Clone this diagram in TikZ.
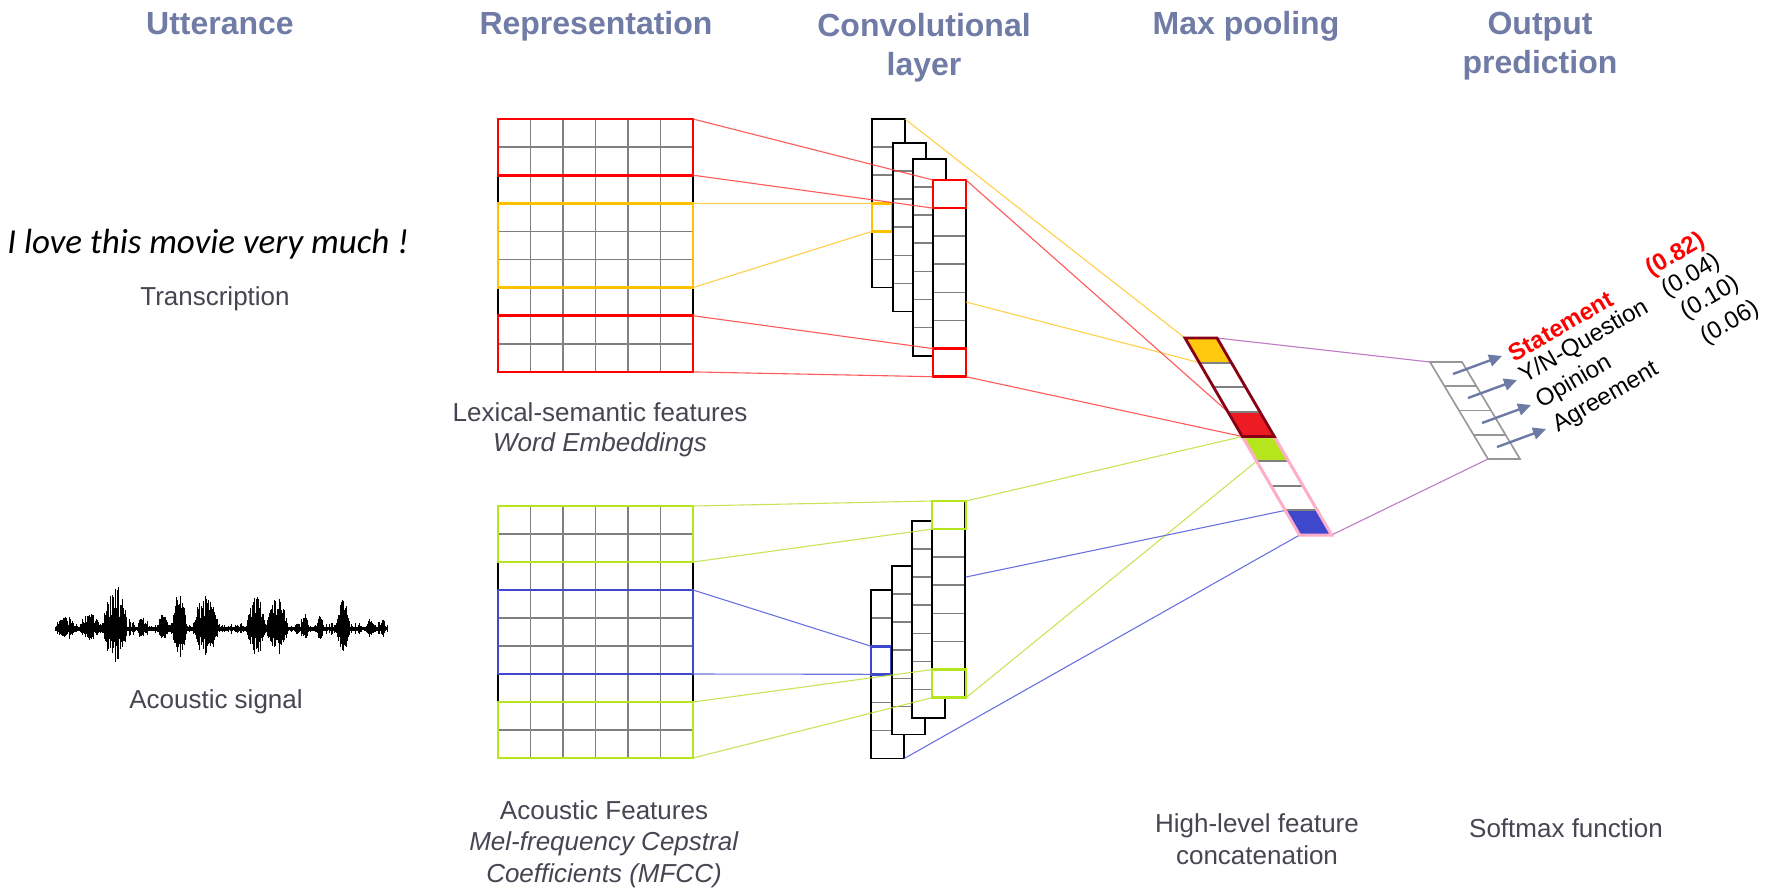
\documentclass[tikz,border=0pt]{standalone}
\usepackage{fontspec}
\setmainfont{Liberation Sans}
\newfontfamily\calfont{Carlito}
\usetikzlibrary{arrows.meta}

\definecolor{hdr}{RGB}{112,124,166}
\definecolor{lbl}{RGB}{70,70,82}
\definecolor{gridgray}{RGB}{128,128,128}
\definecolor{boxred}{RGB}{255,0,0}
\definecolor{boxyel}{RGB}{255,192,0}
\definecolor{boxgrn}{RGB}{181,230,29}
\definecolor{boxblu}{RGB}{63,72,204}
\definecolor{cellred}{RGB}{237,28,36}
\definecolor{cellyel}{RGB}{255,201,14}
\definecolor{darkred}{RGB}{136,0,21}
\definecolor{pinkish}{RGB}{255,174,201}
\definecolor{arrowc}{RGB}{110,122,166}
\definecolor{lnred}{RGB}{255,60,60}
\definecolor{lnyel}{RGB}{255,200,40}
\definecolor{lngrn}{RGB}{190,225,60}
\definecolor{lnblu}{RGB}{80,90,220}
\definecolor{lnpur}{RGB}{180,100,190}
\definecolor{smgray}{RGB}{150,150,150}

\newcommand\hdrfont{\fontsize{32}{39}\selectfont\bfseries}
\newcommand\lblfont{\fontsize{26}{30}\selectfont}
\newcommand\catfont{\fontsize{24}{28}\selectfont}

% feature matrix: left x, top y, row height (6 columns x 9 rows)
\newcommand\featgrid[3]{%
  \foreach \k in {1,...,5} \draw[gridln] (#1+\k*32.5,#2) -- (#1+\k*32.5,#2+9*#3);
  \foreach \k in {1,...,8} \draw[gridln] (#1,#2+\k*#3) -- (#1+195,#2+\k*#3);
  \draw[edge] (#1,#2) -- (#1,#2+9*#3) (#1+195,#2) -- (#1+195,#2+9*#3);
}
% feature map column: left x, top y, number of cells
\newcommand\convcol[3]{%
  \fill[white] (#1,#2) rectangle (#1+33,#2+#3*28.1);
  \foreach \k in {2,...,#3} \draw[gridln] (#1,#2+\k*28.1-28.1) -- (#1+33,#2+\k*28.1-28.1);
  \draw[edge] (#1,#2) rectangle (#1+33,#2+#3*28.1);
}

\begin{document}
\begin{tikzpicture}[x=1pt,y=-1pt,
  gridln/.style={draw=gridgray,line width=1.7pt},
  edge/.style={draw=black,line width=1.6pt},
  hbox/.style={line width=2.6pt},
  conn/.style={line width=1.1pt,opacity=0.85},
  hdrtxt/.style={text=hdr,font=\hdrfont,inner sep=0pt,align=center},
  lbltxt/.style={text=lbl,font=\lblfont,inner sep=0pt,align=center},
  cattxt/.style={font=\catfont,inner sep=0pt,rotate=30,anchor=center},
  probtxt/.style={font=\catfont,inner sep=0pt,rotate=30},
  outarrow/.style={draw=arrowc,line width=2.4pt,-{Triangle[length=13pt,width=12pt]}},
  wave/.style={draw=black,line width=0.7pt}]

\useasboundingbox (0,0) rectangle (1771,887);
\fill[white] (0,0) rectangle (1771,887);

% ---------- column titles ----------
\node[hdrtxt,anchor=base] (h-utt) at (220,34) {Utterance};
\node[hdrtxt,anchor=base] (h-rep) at (596,34) {Representation};
\node[hdrtxt,anchor=north] (h-conv) at (924,13) {Convolutional\\layer};
\node[hdrtxt,anchor=base] (h-pool) at (1246,34) {Max pooling};
\node[hdrtxt,anchor=north] (h-out) at (1540,12) {Output\\prediction};

% ---------- utterance ----------
\node[inner sep=0pt,anchor=base,font=\calfont\itshape\fontsize{35}{40}\selectfont] (sent) at (208,253) {I love this movie very much !};
\node[lbltxt,anchor=base] (transc) at (215,305) {Transcription};

\begin{scope}
  \pgfmathsetseed{42}
  \draw[line width=2.2pt] (55,629) -- (388,629);
  \foreach \k in {0,...,332}{
    \pgfmathsetmacro\wx{55+\k}
    \pgfmathsetmacro\wamp{2+9*rnd*rnd*rnd}
    \pgfmathsetmacro\wdn{\wamp*(0.6+0.4*rnd)}
    \draw[wave] (\wx,629-\wamp) -- (\wx,629+\wdn);
  }
  \foreach \c/\w/\a in {115/13/47,179/8/38,206/14/36,256/10/33,277/12/32,343/7/30,
                        66/11/13,90/12/16,142/5/13,163/7/15,305/4/15,320/4/13,370/4/11,383/3/10}{
    \foreach \k in {0,...,50}{
      \pgfmathsetmacro\wt{-1+\k/25}
      \pgfmathsetmacro\wx{\c+\wt*\w}
      \pgfmathsetmacro\wamp{\a*(1-\wt*\wt)*(0.2+0.8*rnd)}
      \pgfmathsetmacro\wdn{\wamp*(0.5+0.35*rnd)}
      \draw[wave] (\wx,629-\wamp) -- (\wx,629+\wdn);
    }
  }
\end{scope}
\node[lbltxt,anchor=base] (acsig) at (216,708) {Acoustic signal};

% ---------- representations ----------
\featgrid{498}{119}{28.1}
\draw[hbox,boxred] (498,119) rectangle (693,175.2);
\draw[hbox,boxyel] (498,203.3) rectangle (693,287.6);
\draw[hbox,boxred] (498,315.7) rectangle (693,371.9);
\coordinate (tr-a1) at (693,119);   \coordinate (tr-a2) at (693,175.2);
\coordinate (tr-b1) at (693,203.3); \coordinate (tr-b2) at (693,287.6);
\coordinate (tr-c1) at (693,315.7); \coordinate (tr-c2) at (693,371.9);

\featgrid{498}{506}{28}
\draw[hbox,boxgrn] (498,506) rectangle (693,562);
\draw[hbox,boxblu] (498,590) rectangle (693,674);
\draw[hbox,boxgrn] (498,702) rectangle (693,758);
\coordinate (br-a1) at (693,506); \coordinate (br-a2) at (693,562);
\coordinate (br-b1) at (693,590); \coordinate (br-b2) at (693,674);
\coordinate (br-c1) at (693,702); \coordinate (br-c2) at (693,758);

\node[lbltxt,anchor=north] (lex) at (600,402) {Lexical-semantic features\\\textit{Word Embeddings}};
\node[lbltxt,anchor=north,font=\fontsize{26}{31.5}\selectfont] (acf) at (604,800) {Acoustic Features\\\textit{Mel-frequency Cepstral}\\\textit{Coefficients (MFCC)}};

% ---------- convolutional layer (text branch) ----------
\convcol{872}{119}{6}
\draw[hbox,boxyel] (872,203.3) rectangle (892,231.4);
\convcol{893}{143}{6}
\convcol{913}{159}{7}
\convcol{933}{180}{7}
\draw[hbox,boxred] (933,180) rectangle (966,208.1);
\draw[hbox,boxred] (933,348.6) rectangle (966,376.7);
\coordinate (tc1-y1) at (872,203.3); \coordinate (tc1-y2) at (872,231.4);
\coordinate (tc1-ne) at (905,119);
\coordinate (tc4-r1) at (933,180);   \coordinate (tc4-r2) at (933,208.1);
\coordinate (tc4-r3) at (933,348.6); \coordinate (tc4-r4) at (933,376.7);
\coordinate (tc4-ne) at (966,180);   \coordinate (tc4-se) at (966,376.7);
\coordinate (tc4-mid) at (966,302);

% ---------- convolutional layer (acoustic branch) ----------
\convcol{871}{590}{6}
\draw[hbox,boxblu] (871,646.2) rectangle (891,674.3);
\convcol{892}{566}{6}
\convcol{912}{521}{7}
\convcol{932}{501}{7}
\draw[hbox,boxgrn] (932,501) rectangle (966,529.1);
\draw[hbox,boxgrn] (932,669.6) rectangle (966,697.7);
\coordinate (bc1-b1) at (871,646.2); \coordinate (bc1-b2) at (871,674.3);
\coordinate (bc1-se) at (904,758.6);
\coordinate (bc4-g1) at (932,501);   \coordinate (bc4-g2) at (932,529.1);
\coordinate (bc4-g3) at (932,669.6); \coordinate (bc4-g4) at (932,697.7);
\coordinate (bc4-ne) at (966,501);   \coordinate (bc4-se) at (966,697.7);
\coordinate (bc4-mid) at (966,577);

% ---------- max pooling strip corners ----------
\coordinate (mp0) at (1185,338);       \coordinate (mp0r) at (1217,338);
\coordinate (mp1) at (1199.32,362.63);
\coordinate (mp3) at (1227.97,411.88);
\coordinate (mp4) at (1242.29,436.5);  \coordinate (mp4r) at (1274.29,436.5);
\coordinate (mp5) at (1256.61,461.13);
\coordinate (mp7) at (1285.25,510.38);
\coordinate (mp8) at (1299.58,535);    \coordinate (mp8r) at (1331.58,535);

% ---------- softmax corners ----------
\coordinate (sm0) at (1430,362);  \coordinate (sm0r) at (1462,362);
\coordinate (sm4) at (1488,459);  \coordinate (sm4r) at (1520,459);

% ---------- connectors ----------
\draw[conn,lnred] (tr-a1) -- (tc4-r1) (tr-a2) -- (tc4-r2);
\draw[conn,lnyel] (tr-b1) -- (tc1-y1) (tr-b2) -- (tc1-y2);
\draw[conn,lnred] (tr-c1) -- (tc4-r3) (tr-c2) -- (tc4-r4);
\draw[conn,lngrn] (br-a1) -- (bc4-g1) (br-a2) -- (bc4-g2);
\draw[conn,lnblu] (br-b1) -- (bc1-b1) (br-b2) -- (bc1-b2);
\draw[conn,lngrn] (br-c1) -- (bc4-g3) (br-c2) -- (bc4-g4);

\draw[conn,lnyel] (tc1-ne) -- (mp0) (tc4-mid) -- (mp1);
\draw[conn,lnred] (tc4-ne) -- (mp3) (tc4-se) -- (mp4);
\draw[conn,lngrn] (bc4-ne) -- (mp4) (bc4-se) -- (mp5);
\draw[conn,lnblu] (bc4-mid) -- (mp7) (bc1-se) -- (mp8);
\draw[conn,lnpur] (mp0r) -- (sm0) (mp8r) -- (sm4);

% ---------- max pooling strip ----------
\foreach \i/\c in {0/cellyel,1/white,2/white,3/cellred,4/boxgrn,5/white,6/white,7/boxblu}{
  \pgfmathsetmacro\ya{338+\i*24.625}
  \pgfmathsetmacro\yb{\ya+24.625}
  \pgfmathsetmacro\xa{1185+0.5816*(\ya-338)}
  \pgfmathsetmacro\xb{1185+0.5816*(\yb-338)}
  \fill[\c] (\xa,\ya) -- (\xa+32,\ya) -- (\xb+32,\yb) -- (\xb,\yb) -- cycle;
}
\foreach \i in {1,2,3,5,6,7}{
  \pgfmathsetmacro\ya{338+\i*24.625}
  \pgfmathsetmacro\xa{1185+0.5816*(\ya-338)}
  \draw[gridln,line width=2pt] (\xa,\ya) -- (\xa+32,\ya);
}
\draw[pinkish,line width=3pt,line join=miter] (mp4) -- (mp4r) -- (mp8r) -- (mp8) -- cycle;
\draw[darkred,line width=2.8pt,line join=miter] (mp0) -- (mp0r) -- (mp4r) -- (mp4) -- cycle;

% ---------- softmax strip ----------
\fill[white] (sm0) -- (sm0r) -- (sm4r) -- (sm4) -- cycle;
\foreach \i in {1,2,3}{
  \pgfmathsetmacro\ya{362+\i*24.25}
  \pgfmathsetmacro\xa{1430+0.598*(\ya-362)}
  \draw[smgray,line width=1.6pt] (\xa,\ya) -- (\xa+32,\ya);
}
\draw[smgray,line width=1.6pt] (sm0) -- (sm0r) -- (sm4r) -- (sm4) -- cycle;

% ---------- class outputs ----------
\coordinate (o0s) at (1453,374);   \coordinate (o0e) at (1502,356);
\coordinate (o1s) at (1468,398);   \coordinate (o1e) at (1517,380);
\coordinate (o2s) at (1482,423);   \coordinate (o2e) at (1531,405);
\coordinate (o3s) at (1497,447);   \coordinate (o3e) at (1546,429);
\draw[outarrow] (o0s) -- (o0e);
\draw[outarrow] (o1s) -- (o1e);
\draw[outarrow] (o2s) -- (o2e);
\draw[outarrow] (o3s) -- (o3e);

\node[cattxt,text=boxred,font=\catfont\bfseries] (c-stat) at (1561,326) {Statement};
\node[cattxt] (c-yn) at (1584,342) {Y/N-Question};
\node[cattxt] (c-op) at (1574,382) {Opinion};
\node[cattxt] (c-ag) at (1606,398) {Agreement};

\node[probtxt,text=boxred,font=\catfont\bfseries] (p-stat) at (1676,255) {(0.82)};
\node[probtxt] (p-yn) at (1691,276) {(0.04)};
\node[probtxt] (p-op) at (1710,298) {(0.10)};
\node[probtxt] (p-ag) at (1730,323) {(0.06)};

% ---------- bottom captions ----------
\node[lbltxt,anchor=north,font=\fontsize{26}{32.5}\selectfont] (hlf) at (1257,813) {High-level feature\\concatenation};
\node[lbltxt,anchor=base] (smf) at (1566,837) {Softmax function};

\end{tikzpicture}
\end{document}
